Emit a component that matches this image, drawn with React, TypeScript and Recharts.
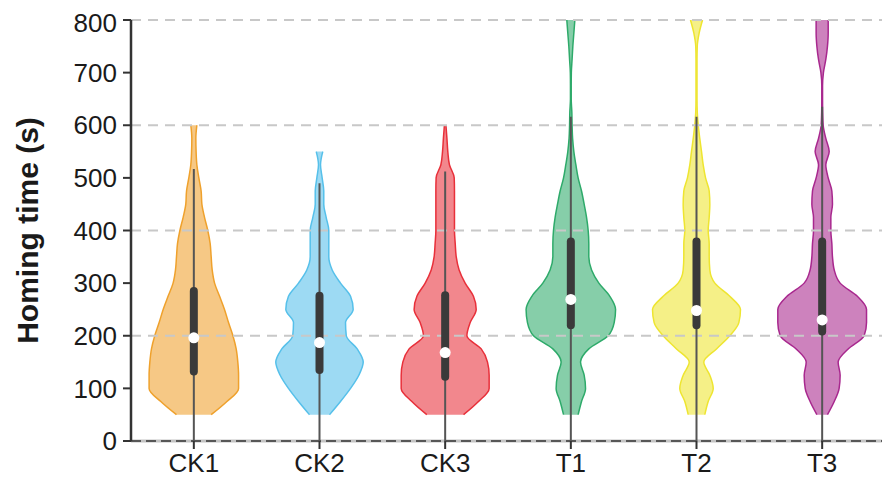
import { ComposedChart, Area, Scatter, XAxis, YAxis, ReferenceLine } from "recharts";

const groups = ["CK1", "CK2", "CK3", "T1", "T2", "T3"];
const colors = ["#EFA12C", "#56C0EA", "#E8303A", "#2EAA6A", "#EEE530", "#A8288E"];

// homing time levels where violin widths were read (s)
const times = [
  50, 75, 100, 125, 150, 175, 200, 225, 250, 275, 300, 325, 350, 375, 400, 425,
  450, 475, 500, 525, 550, 575, 600, 625, 650, 675, 700, 725, 750, 775, 800,
];

// half width of each violin at every level, in category units
const ck1HalfWidth = [
  0.138, 0.263, 0.356, 0.356, 0.35, 0.337, 0.311, 0.276, 0.244, 0.205, 0.165, 0.146,
  0.138, 0.13, 0.111, 0.085, 0.064, 0.058, 0.04, 0.024, 0.018, 0.016, 0.024,
];
const ck2HalfWidth = [
  0.08, 0.167, 0.247, 0.313, 0.348, 0.3, 0.213, 0.207, 0.268, 0.247, 0.167, 0.101,
  0.074, 0.074, 0.074, 0.053, 0.034, 0.034, 0.021, 0.008, 0.026,
];
const ck3HalfWidth = [
  0.146, 0.265, 0.35, 0.35, 0.337, 0.287, 0.173, 0.199, 0.247, 0.225, 0.159, 0.111,
  0.088, 0.08, 0.074, 0.074, 0.074, 0.074, 0.072, 0.034, 0.021, 0.014, 0.006,
];
const t1HalfWidth = [
  0.058, 0.085, 0.117, 0.106, 0.077, 0.143, 0.297, 0.345, 0.356, 0.31, 0.223, 0.165,
  0.143, 0.143, 0.138, 0.125, 0.106, 0.085, 0.058, 0.04, 0.024, 0.014, 0.01, 0.008,
  0.003, 0.003, 0.004, 0.01, 0.016, 0.024, 0.032,
];
const t2HalfWidth = [
  0.066, 0.093, 0.133, 0.106, 0.058, 0.159, 0.265, 0.337, 0.35, 0.265, 0.146, 0.106,
  0.101, 0.101, 0.093, 0.101, 0.106, 0.101, 0.072, 0.053, 0.04, 0.026, 0.014, 0.006,
  0.004, 0.004, 0.004, 0.004, 0.006, 0.021, 0.048,
];
const t3HalfWidth = [
  0.042, 0.096, 0.135, 0.143, 0.127, 0.207, 0.334, 0.353, 0.353, 0.28, 0.143, 0.096,
  0.082, 0.077, 0.069, 0.069, 0.082, 0.077, 0.048, 0.029, 0.056, 0.029, 0.008, 0.004,
  0.003, 0.003, 0.01, 0.029, 0.042, 0.048, 0.048,
];
const halfWidths = [ck1HalfWidth, ck2HalfWidth, ck3HalfWidth, t1HalfWidth, t2HalfWidth, t3HalfWidth];

// box plot statistics (s)
const whiskerTop = [517, 490, 512, 616, 616, 635];
const q1 = [132, 135, 122, 220, 220, 208];
const q3 = [285, 276, 277, 379, 379, 379];
const medians = [196, 187, 168, 269, 248, 230];

const yTicks = [0, 100, 200, 300, 400, 500, 600, 700, 800];
const gridValues = [200, 400, 600, 800];

// one row list per violin: [left, right] edge around its category position
const violinData = groups.map((_, gi) =>
  halfWidths[gi].map((w, i) => ({ t: times[i], edge: [gi + 1 - w, gi + 1 + w] }))
);

const medianPoints = groups.map((_, gi) => ({ x: gi + 1, t: medians[gi] }));

const font = "'Liberation Sans', Arial, sans-serif";

const Empty = () => <g />;

export default function App() {
  return (
    <ComposedChart
      width={882}
      height={471}
      layout="vertical"
      margin={{ top: 12, right: 5, bottom: 8, left: 5 }}
      style={{ fontFamily: font }}
    >
      <XAxis
        type="number"
        dataKey="x"
        domain={[0.5, 6.5]}
        ticks={[1, 2, 3, 4, 5, 6]}
        tickFormatter={(v) => groups[v - 1]}
        allowDataOverflow
        height={30}
        tickSize={8}
        tickMargin={5}
        tick={{ fill: "#1a1a1a", fontSize: 26 }}
        tickLine={{ stroke: "#333", strokeWidth: 2 }}
        axisLine={false}
      />
      <YAxis
        type="number"
        dataKey="t"
        domain={[0, 800]}
        ticks={yTicks}
        reversed
        allowDataOverflow
        width={118}
        tickSize={8}
        tickMargin={6}
        tick={{ fill: "#1a1a1a", fontSize: 26 }}
        tickLine={{ stroke: "#333", strokeWidth: 2 }}
        axisLine={{ stroke: "#333", strokeWidth: 2.5 }}
        label={{
          value: "Homing time (s)",
          angle: -90,
          position: "insideLeft",
          offset: 14,
          style: { textAnchor: "middle", fontSize: 30, fontWeight: 700, fill: "#1a1a1a" },
        }}
      />
      {gridValues.map((v) => (
        <ReferenceLine key={v} y={v} stroke="#c8c8c8" strokeWidth={2} strokeDasharray="10 7" />
      ))}
      <ReferenceLine y={0} stroke="#c4c4c4" strokeWidth={3} />
      <ReferenceLine y={0} stroke="#333" strokeWidth={1.5} strokeDasharray="10 5" />
      {groups.map((g, gi) => (
        <Area
          key={g}
          data={violinData[gi]}
          dataKey="edge"
          name={g}
          type="monotone"
          stroke={colors[gi]}
          strokeWidth={1.5}
          fill={colors[gi]}
          fillOpacity={0.58}
          dot={false}
          activeDot={false}
          isAnimationActive={false}
        />
      ))}
      {groups.map((g, gi) => (
        <Scatter
          key={`w-${g}`}
          data={[
            { x: gi + 1, t: 0 },
            { x: gi + 1, t: whiskerTop[gi] },
          ]}
          line={{ stroke: "#555", strokeWidth: 2 }}
          shape={Empty}
          isAnimationActive={false}
        />
      ))}
      {groups.map((g, gi) => (
        <Scatter
          key={`b-${g}`}
          data={[
            { x: gi + 1, t: q1[gi] },
            { x: gi + 1, t: q3[gi] },
          ]}
          line={{ stroke: "#3a3a3a", strokeWidth: 8, strokeLinecap: "round" }}
          shape={Empty}
          isAnimationActive={false}
        />
      ))}
      <Scatter
        data={medianPoints}
        shape={(p: any) => <circle cx={p.cx} cy={p.cy} r={5.5} fill="#fff" />}
        isAnimationActive={false}
      />
    </ComposedChart>
  );
}
